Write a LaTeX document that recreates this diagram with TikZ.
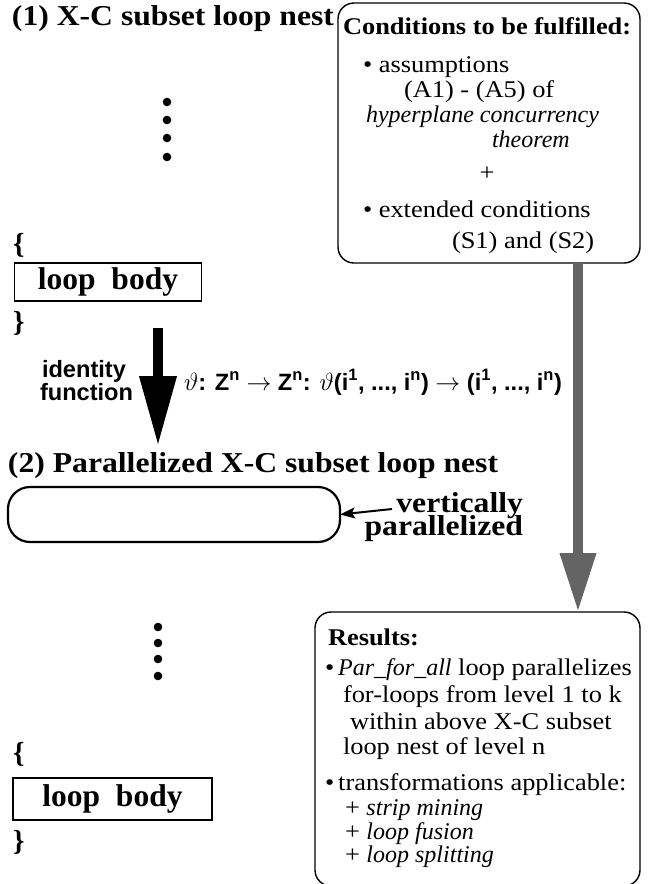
\documentclass[tikz,border=0pt]{standalone}
\usepackage{fontspec}
\setmainfont{Liberation Serif}
\newfontfamily\palfont[FakeStretch=1.1]{Liberation Serif}
\newfontfamily\palitfont{Liberation Serif}
\newfontfamily\timesfont{Liberation Serif}
\newfontfamily\arialfont{Liberation Sans}
\usetikzlibrary{arrows.meta}
\newcommand{\itpart}[1]{{\palitfont\itshape #1}}
\begin{document}
\begin{tikzpicture}[x=1pt,y=-1pt,
  every node/.style={inner sep=0pt,outer sep=0pt},
  ttl/.style={font=\palfont\bfseries\fontsize{28.8}{32}\selectfont,anchor=base west},
  hdr/.style={font=\palfont\bfseries\fontsize{24}{28}\selectfont,anchor=base west},
  txt/.style={font=\palfont\fontsize{24}{28}\selectfont,anchor=base west},
  itxt/.style={font=\palitfont\itshape\fontsize{24}{28}\selectfont,anchor=base west},
  sans/.style={font=\arialfont\bfseries\fontsize{23.6}{27}\selectfont,anchor=base west},
  brace/.style={font=\timesfont\bfseries\fontsize{29}{30}\selectfont,anchor=base west},
  lbbox/.style={draw,line width=1.4pt,font=\timesfont\bfseries\fontsize{31.5}{34}\selectfont},
  rbox/.style={draw,line width=1.4pt,rounded corners=16pt},
  dotmark/.style={circle,fill,minimum size=8.6pt},
  bigarrow/.style={line width=10pt,-{Triangle[width=35pt,length=70pt]}},
  grayarrow/.style={draw=arrowgray,line width=10pt,-{Triangle[width=34pt,length=59pt]}},
]
\definecolor{arrowgray}{RGB}{100,100,100}
\fill[white] (0,0) rectangle (651,884);
\useasboundingbox (0,0) rectangle (651,884);

% ---- (1) original loop nest ----
\node[ttl] (t1) at (12,25) {(1) X-C subset loop nest};
\foreach \i/\yy in {1/102,2/120,3/138,4/157}
  \node[dotmark] (ud\i) at (167,\yy) {};
\node[brace] (ob1) at (13,253) {\{};
\node[lbbox,minimum width=187pt,minimum height=38pt] (lb1) at (108,282) {loop\ \ body};
\node[brace] (cb1) at (13,331) {\}};

% ---- conditions ----
\node[rbox,minimum width=302pt,minimum height=260pt] (cond) at (489,133) {};
\node[hdr] (ch) at (343,34) {Conditions to be fulfilled:};
\node[txt] (c1) at (363,72) {\textbullet\ assumptions};
\node[txt] (c2) at (404,97) {(A1) - (A5) of};
\node[itxt] (c3) at (366,122) {hyperplane concurrency};
\node[itxt] (c4) at (492,147) {theorem};
\node[txt,anchor=base] (c5) at (487,180) {+};
\node[txt] (c6) at (363,217) {\textbullet\ extended conditions};
\node[txt] (c7) at (452,248) {(S1) and (S2)};

% ---- identity mapping ----
\coordinate (bstart) at (158,328);
\coordinate (btip) at (158,446);
\draw[bigarrow] (bstart) -- (btip);
\node[sans] (id1) at (42,377) {identity};
\node[sans] (id2) at (40,400) {function};
\node[sans] (fn) at (184,390) {$\vartheta$: Z\textsuperscript{n} $\rightarrow$ Z\textsuperscript{n}: $\vartheta$(i\textsuperscript{1}, ..., i\textsuperscript{n}) $\rightarrow$ (i\textsuperscript{1}, ..., i\textsuperscript{n})};

% ---- (2) parallelized loop nest ----
\node[ttl] (t2) at (8,472) {(2) Parallelized X-C subset loop nest};
\node[draw,line width=2.2pt,rounded corners=22pt,minimum width=332pt,minimum height=55pt] (pbox) at (174,514.5) {};
\node[ttl,anchor=base east] (v1) at (523,512) {vertically};
\node[ttl,anchor=base east] (v2) at (523,535) {parallelized};
\coordinate (vstart) at (392,509);
\draw[line width=2pt,-{Stealth[length=15pt,width=11pt,inset=3pt]}] (vstart) -- (pbox.east);

\foreach \i/\yy in {1/627,2/643,3/659,4/676}
  \node[dotmark] (ld\i) at (158,\yy) {};
\node[brace] (ob2) at (13,762) {\{};
\node[lbbox,minimum width=199pt,minimum height=42pt] (lb2) at (112.5,799) {loop\ \ body};
\node[brace] (cb2) at (13,850) {\}};

% ---- results ----
\node[rbox,minimum width=325pt,minimum height=274pt] (res) at (477.5,749) {};
\coordinate (gx) at (578,0);
\draw[grayarrow] (cond.south -| gx) -- (res.north -| gx);
\node[hdr] (rh) at (328,645) {Results:};
\node[txt] (r1) at (325,675) {\textbullet\,\itpart{Par\_for\_all} loop parallelizes};
\node[txt] (r2) at (343,702) {for-loops from level 1 to k};
\node[txt] (r3) at (350,729) {within above X-C subset};
\node[txt] (r4) at (343,754) {loop nest of level n};
\node[txt] (r5) at (325,790) {\textbullet\,transformations applicable:};
\node[txt] (r6) at (345,815) {+ \itpart{strip mining}};
\node[txt] (r7) at (345,839) {+ \itpart{loop fusion}};
\node[txt] (r8) at (345,862) {+ \itpart{loop splitting}};
\end{tikzpicture}
\end{document}
